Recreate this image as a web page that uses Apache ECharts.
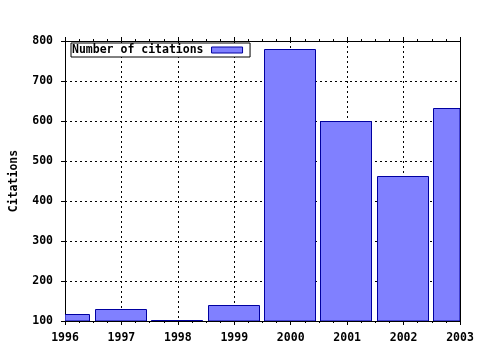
<!DOCTYPE html>
<html>
<head>
<meta charset="utf-8">
<script src="https://cdn.jsdelivr.net/npm/echarts@6/dist/echarts.min.js"></script>
<style>html,body{margin:0;padding:0;background:#fff;}#c{width:480px;height:350px;}</style>
</head>
<body>
<div id="c"></div>
<script>
var years = [1996, 1997, 1998, 1999, 2000, 2001, 2002, 2003];
var citations = [117, 130, 103, 141, 780, 600, 462, 633];
var seriesName = 'Number of citations';
var yTicks = [100, 200, 300, 400, 500, 600, 700, 800];

var FONT = '"DejaVu Sans Mono", monospace';
var chart = echarts.init(document.getElementById('c'), null, {renderer: 'canvas'});
var data = years.map(function (y, i) { return [y, citations[i]]; });
var txt = {color: '#000', fontFamily: FONT, fontWeight: 'bold', fontSize: 11.5};
var grid = {left: 65, right: 20, top: 41, bottom: 29};
var xMin = years[0], xMax = years[years.length - 1];
var yMin = yTicks[0], yMax = yTicks[yTicks.length - 1];
var barFrac = 0.91;
var barStyle = {color: '#8080ff', borderColor: '#0000a0', borderWidth: 1};

function xAxisDef(pos, main) {
  return {
    type: 'value', position: pos, min: xMin, max: xMax, interval: 1,
    axisLine: {show: true, onZero: false, lineStyle: {color: '#000', width: 1}},
    axisTick: {show: true, inside: false, length: 4, lineStyle: {color: '#000'}},
    minorTick: {show: true, splitNumber: 4, length: 2, lineStyle: {color: '#000'}},
    axisLabel: main ? Object.assign({margin: 11, formatter: function (v) { return String(v); }}, txt) : {show: false},
    splitLine: {show: main, lineStyle: {color: '#000', type: [2, 3], width: 1}}
  };
}

chart.setOption({
  animation: false,
  backgroundColor: '#fff',
  grid: grid,
  legend: {
    left: 71, top: 43,
    align: 'right',
    data: [{name: seriesName, icon: 'rect', itemStyle: barStyle}],
    itemWidth: 31, itemHeight: 6,
    backgroundColor: '#fff',
    borderColor: '#000', borderWidth: 1, borderRadius: 0,
    padding: [1, 7, 1, 1],
    textStyle: Object.assign({}, txt, {lineHeight: 12, padding: [0, 3, 0, 0]})
  },
  xAxis: [xAxisDef('bottom', true), xAxisDef('top', false)],
  yAxis: [{
    type: 'value', position: 'left', min: yMin, max: yMax, interval: 100,
    name: 'Citations', nameLocation: 'middle', nameGap: 45, nameRotate: 90,
    nameTextStyle: txt,
    axisLine: {show: true, onZero: false, lineStyle: {color: '#000', width: 1}},
    axisTick: {show: true, inside: false, length: 4, lineStyle: {color: '#000'}},
    axisLabel: Object.assign({margin: 12}, txt),
    splitLine: {show: true, lineStyle: {color: '#000', type: [2, 3], width: 1}}
  }, {
    type: 'value', position: 'right', min: yMin, max: yMax, interval: 100,
    axisLine: {show: true, onZero: false, lineStyle: {color: '#000', width: 1}},
    axisTick: {show: false}, axisLabel: {show: false}, splitLine: {show: false}
  }],
  series: [{
    name: seriesName,
    type: 'custom',
    xAxisIndex: 0, yAxisIndex: 0,
    clip: true,
    itemStyle: barStyle,
    encode: {x: 0, y: 1},
    data: data,
    renderItem: function (params, api) {
      var x = api.value(0), v = api.value(1);
      var top = api.coord([x, v]);
      var base = api.coord([x, yMin]);
      var w = api.size([1, 0])[0] * barFrac;
      var rect = {x: Math.round(top[0] - w / 2) - 0.5, y: Math.round(top[1]) + 0.5,
                  width: Math.round(w), height: Math.round(base[1] - top[1])};
      var clipped = echarts.graphic.clipRectByRect(rect, {
        x: params.coordSys.x, y: params.coordSys.y,
        width: params.coordSys.width, height: params.coordSys.height
      });
      return clipped && {
        type: 'rect',
        shape: clipped,
        style: api.style(barStyle)
      };
    }
  }]
});
</script>
</body>
</html>
